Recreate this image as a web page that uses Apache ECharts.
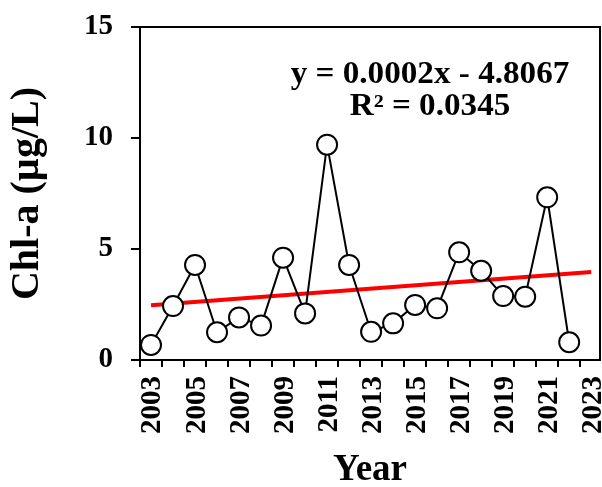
<!DOCTYPE html>
<html>
<head>
<meta charset="utf-8">
<script src="https://cdn.jsdelivr.net/npm/echarts@6/dist/echarts.min.js"></script>
<style>
  html, body { margin: 0; padding: 0; background: #fff; }
  #curve { width: 602px; height: 487px; }
</style>
</head>
<body>
<div id="curve"></div>
<script>
// 年份与叶绿素a数值
var years = [2003, 2004, 2005, 2006, 2007, 2008, 2009, 2010, 2011, 2012,
             2013, 2014, 2015, 2016, 2017, 2018, 2019, 2020, 2021, 2022];
var chla = [0.68, 2.43, 4.28, 1.25, 1.92, 1.55, 4.61, 2.10, 9.70, 4.28,
            1.27, 1.65, 2.48, 2.33, 4.85, 4.02, 2.88, 2.85, 7.33, 0.80];
// 趋势线端点
var trendX = [2003.5, 2023.5];
var trendY = [2.47, 3.96];
// 公式文字
var eqLines = ['y = 0.0002x - 4.8067', 'R² = 0.0345'];

var fontFamily = '"Liberation Serif", "Times New Roman", serif';

var myChart = echarts.init(document.getElementById('curve'));

var points = years.map(function (y, i) { return [y + 0.5, chla[i]]; });//年中位置
var trend = trendX.map(function (x, i) { return [x, trendY[i]]; });

var option = {
    animation: false,
    backgroundColor: '#fff',
    grid: {
        left: 140,
        right: 2,
        top: 27,
        bottom: 127,
        outerBoundsMode: 'none',
        containLabel: false,
        show: true,
        borderColor: '#000',
        borderWidth: 2
    },
    xAxis: {
        type: 'value',
        min: 2003,
        max: 2023.9,
        interval: 1,
        name: 'Year',
        nameLocation: 'middle',
        nameGap: 92,
        nameTextStyle: { fontFamily: fontFamily, fontWeight: 'bold', fontSize: 37, color: '#000' },
        axisLine: { lineStyle: { color: '#000', width: 2 } },
        axisTick: { length: 7, lineStyle: { color: '#000', width: 2 } },
        splitLine: { show: false },
        axisLabel: {
            rotate: 90,
            margin: 16,
            fontFamily: fontFamily,
            fontWeight: 'bold',
            fontSize: 29,
            color: '#000',
            verticalAlign: 'top',
            lineHeight: 26,
            showMaxLabel: false,
            formatter: function (v) {
                if (Math.round(v) !== v || v % 2 === 0) return '';
                return String(v);
            }
        }
    },
    yAxis: {
        type: 'value',
        min: 0,
        max: 15,
        interval: 5,
        name: 'Chl-a (µg/L)',
        nameLocation: 'middle',
        nameGap: 92,
        nameTextStyle: { fontFamily: fontFamily, fontWeight: 'bold', fontSize: 40, color: '#000' },
        axisLine: { lineStyle: { color: '#000', width: 2 } },
        axisTick: { length: 9, lineStyle: { color: '#000', width: 2 } },
        splitLine: { show: false },
        axisLabel: {
            margin: 27,
            fontFamily: fontFamily,
            fontWeight: 'bold',
            fontSize: 29,
            color: '#000'
        }
    },
    graphic: [
        {
            type: 'text',
            x: 430, y: 59, scaleX: 1.07,
            style: {
                text: eqLines[0],
                x: 0, y: 0,
                align: 'center',
                verticalAlign: 'top',
                fontFamily: fontFamily, fontWeight: 'bold', fontSize: 31, fill: '#000'
            }
        },
        {
            type: 'text',
            x: 430, y: 91, scaleX: 1.07,
            style: {
                text: eqLines[1],
                x: 0, y: 0,
                align: 'center',
                verticalAlign: 'top',
                fontFamily: fontFamily, fontWeight: 'bold', fontSize: 31, fill: '#000'
            }
        }
    ],
    series: [
        {
            name: 'trend',
            type: 'line',
            data: trend,
            symbol: 'none',
            z: 1,
            lineStyle: { color: '#ff0000', width: 4 }
        },
        {
            name: 'Chl-a',
            type: 'line',
            data: points,
            z: 2,
            symbol: 'circle',
            symbolSize: 20,
            lineStyle: { color: '#000', width: 2 },
            itemStyle: { color: '#fff', borderColor: '#000', borderWidth: 2 }
        }
    ]
};
myChart.setOption(option);
</script>
</body>
</html>
